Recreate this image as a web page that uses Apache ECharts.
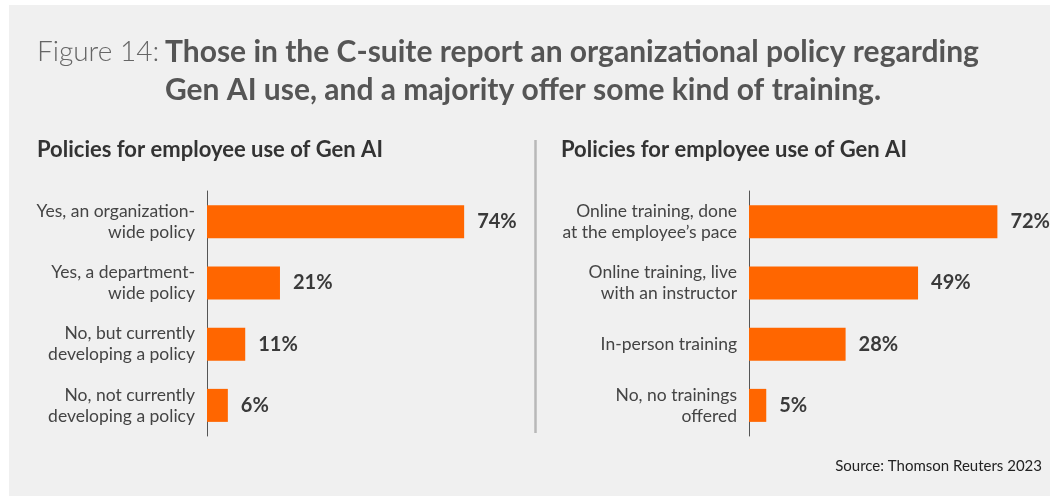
<!DOCTYPE html>
<html>
<head>
<meta charset="utf-8">
<script src="https://cdn.jsdelivr.net/npm/echarts@6/dist/echarts.min.js"></script>
<style>
  html, body { margin: 0; padding: 0; background: #ffffff; }
  #chart { width: 1050px; height: 496px; }
</style>
</head>
<body>
<div id="chart"></div>
<script>
// Policy responses (left panel)
const policyCategories = [
  'Yes, an organization-\nwide policy',
  'Yes, a department-\nwide policy',
  'No, but currently\ndeveloping a policy',
  'No, not currently\ndeveloping a policy'
];
const policyValues = [74, 21, 11, 6];

// Training responses (right panel)
const trainingCategories = [
  'Online training, done\nat the employee\u2019s pace',
  'Online training, live\nwith an instructor',
  'In-person training',
  'No, no trainings\noffered'
];
const trainingValues = [72, 49, 28, 5];

const panelTitles = ['Policies for employee use of Gen AI', 'Policies for employee use of Gen AI'];
const figureLabel = 'Figure 14:';
const headline = 'Those in the C-suite report an organizational policy regarding\nGen AI use, and a majority offer some kind of training.';
const sourceNote = 'Source: Thomson Reuters 2023';

const FONT = 'Lato, "Open Sans", "Noto Sans", sans-serif';
const ORANGE = '#ff6600';

const chart = echarts.init(document.getElementById('chart'));

function yAxisFor(gridIndex, cats) {
  return {
    type: 'category',
    gridIndex: gridIndex,
    data: cats,
    inverse: true,
    axisLine: { show: true, lineStyle: { color: '#555555', width: 1 } },
    axisTick: { show: false },
    axisLabel: {
      color: '#444444',
      fontSize: 17.5,
      fontFamily: FONT,
      lineHeight: 21,
      margin: 12,
      align: 'right'
    }
  };
}

function xAxisFor(gridIndex) {
  return {
    type: 'value',
    gridIndex: gridIndex,
    min: 0,
    max: 80,
    show: false
  };
}

function barSeries(idx, values) {
  return {
    type: 'bar',
    xAxisIndex: idx,
    yAxisIndex: idx,
    data: values,
    barWidth: 33,
    itemStyle: { color: ORANGE },
    label: {
      show: true,
      position: 'right',
      distance: 13,
      formatter: '{c}%',
      color: '#3a3a3a',
      fontSize: 20,
      fontWeight: 'bold',
      fontFamily: FONT
    },
    silent: true
  };
}

chart.setOption({
  backgroundColor: '#ffffff',
  animation: false,
  grid: [
    { left: 207, top: 191, width: 278, height: 245, outerBoundsMode: 'none' },
    { left: 749, top: 191, width: 276, height: 245, outerBoundsMode: 'none' }
  ],
  xAxis: [xAxisFor(0), xAxisFor(1)],
  yAxis: [yAxisFor(0, policyCategories), yAxisFor(1, trainingCategories)],
  series: [barSeries(0, policyValues), barSeries(1, trainingValues)],
  graphic: [
    {
      type: 'rect', z: -10, silent: true,
      shape: { x: 9, y: 5, width: 1041, height: 491 },
      style: { fill: '#f0f0f0' }
    },
    {
      type: 'text', silent: true,
      style: {
        x: 37, y: 52, text: figureLabel,
        fontSize: 28, fontWeight: 300, fontFamily: FONT,
        fill: '#666666', verticalAlign: 'middle'
      }
    },
    {
      type: 'text', silent: true,
      style: {
        text: headline,
        fontSize: 30, fontWeight: 'bold', fontFamily: FONT,
        lineHeight: 38, fill: '#555555', verticalAlign: 'top'
      },
      top: 33, left: 165
    },
    {
      type: 'text', silent: true,
      style: {
        x: 37, y: 150, text: panelTitles[0],
        fontSize: 22, fontWeight: 'bold', fontFamily: FONT,
        fill: '#333333', verticalAlign: 'middle'
      }
    },
    {
      type: 'text', silent: true,
      style: {
        x: 561, y: 150, text: panelTitles[1],
        fontSize: 22, fontWeight: 'bold', fontFamily: FONT,
        fill: '#333333', verticalAlign: 'middle'
      }
    },
    {
      type: 'line', silent: true,
      shape: { x1: 535.5, y1: 140, x2: 535.5, y2: 433 },
      style: { stroke: '#b8b8b8', lineWidth: 2.5 }
    },
    {
      type: 'text', silent: true,
      style: {
        x: 1042, y: 466, text: sourceNote,
        fontSize: 15, fontFamily: FONT,
        fill: '#222222', align: 'right', verticalAlign: 'middle'
      }
    }
  ]
});
</script>
</body>
</html>
